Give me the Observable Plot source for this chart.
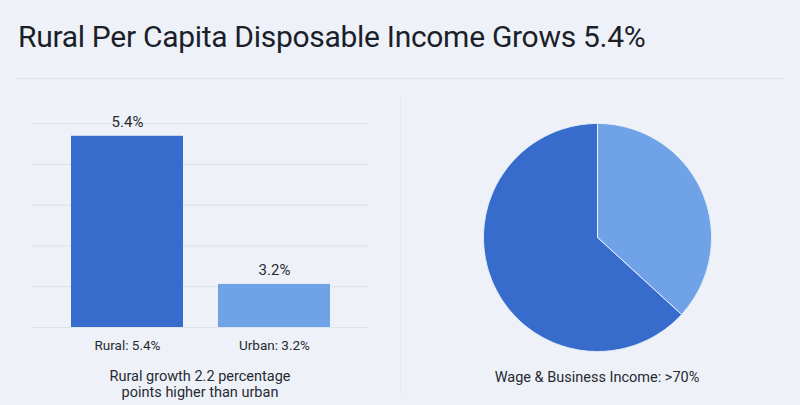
<!DOCTYPE html>
<html>
<head>
<meta charset="utf-8">
<script src="https://cdn.jsdelivr.net/npm/d3@7"></script>
<script src="https://cdn.jsdelivr.net/npm/@observablehq/plot@0.6"></script>
<style>
  html, body { margin: 0; padding: 0; }
  body { width: 800px; height: 405px; background: #eef2f8; position: relative; overflow: hidden; font-family: Roboto, "Noto Sans", sans-serif; color: #2a2e36; }
  #title { position: absolute; left: 18px; top: 19px; font-size: 30px; color: #1b1f2a; white-space: nowrap; letter-spacing: -0.3px; }
  #sep { position: absolute; left: 15px; top: 78px; width: 768px; height: 1px; background: #dde2ea; }
  #vdiv { position: absolute; left: 400px; top: 95px; width: 1px; height: 300px; background: #e4e8ef; }
  #bars { position: absolute; left: 0; top: 100px; }
  #pie { position: absolute; left: 400px; top: 95px; }
  .cap { position: absolute; text-align: center; font-size: 14.5px; line-height: 15.5px; color: #262a32; }
  #cap1 { left: 0; width: 400px; top: 369px; }
  #cap2 { left: 397px; width: 400px; top: 370px; }
</style>
</head>
<body>
<div id="title"></div>
<div id="sep"></div>
<div id="vdiv"></div>
<div id="bars"></div>
<div id="pie"></div>
<div id="cap1" class="cap"></div>
<div id="cap2" class="cap"></div>
<script>
// ---- data ----
const titleText = "Rural Per Capita Disposable Income Grows 5.4%";
const categories = ["Rural", "Urban"];
const growth = [5.4, 3.2];
const barLabels = ["5.4%", "3.2%"];
const tickLabels = ["Rural: 5.4%", "Urban: 3.2%"];
const barCaption = ["Rural growth 2.2 percentage", "points higher than urban"];
const sliceNames = ["Other income", "Wage & Business"];
const sliceShares = [36.8, 63.2];
const pieCaption = "Wage & Business Income: >70%";
// axis extent as drawn in the picture
const yBase = 2.56, yTop = 5.59;

const darkBlue = "#376ccd";
const lightBlue = "#6fa2e6";

document.getElementById("title").textContent = titleText;
document.getElementById("cap1").innerHTML = barCaption.join("<br>");
document.getElementById("cap2").textContent = pieCaption;

// ---- bar chart ----
const barData = categories.map((c, i) => ({cat: c, value: growth[i], label: barLabels[i], tick: tickLabels[i]}));
const gridVals = d3.range(6).map(i => yBase + i * (yTop - yBase) / 5);
const barPlot = Plot.plot({
  width: 400,
  height: 262,
  marginLeft: 32,
  marginRight: 32,
  marginTop: 23,
  marginBottom: 35,
  style: {background: "transparent", fontFamily: "Roboto, 'Noto Sans', sans-serif", fontSize: "13.5px", color: "#262a32"},
  x: {domain: categories, paddingInner: 0.24, paddingOuter: 0.26, label: null},
  y: {domain: [yBase, yTop], axis: null},
  marks: [
    Plot.ruleY(gridVals, {stroke: "#dfe3ea", strokeWidth: 1.2}),
    Plot.barY(barData, {x: "cat", y1: yBase, y2: "value", fill: (d) => d.cat === "Rural" ? darkBlue : lightBlue}),
    Plot.text(barData, {x: "cat", y: "value", text: "label", dy: -14, fill: "#262a32", fontSize: 15}),
    Plot.axisX({tickSize: 0, tickPadding: 13, tickFormat: d => tickLabels[categories.indexOf(d)], label: null, fontSize: 13.5})
  ]
});
document.getElementById("bars").appendChild(barPlot);

// ---- pie chart ----
const arcs = d3.pie().sort(null)(sliceShares);
const piePts = [];
arcs.forEach((a, i) => {
  piePts.push({slice: sliceNames[i], px: 0, py: 0});
  const n = Math.max(2, Math.ceil((a.endAngle - a.startAngle) / 0.01));
  for (let k = 0; k <= n; k++) {
    const t = a.startAngle + (a.endAngle - a.startAngle) * k / n;
    piePts.push({slice: sliceNames[i], px: Math.sin(t), py: Math.cos(t)});
  }
  piePts.push({slice: sliceNames[i], px: 0, py: 0});
});
const piePlot = Plot.plot({
  width: 400,
  height: 280,
  marginLeft: 83,
  marginRight: 89,
  marginTop: 28,
  marginBottom: 24,
  style: {background: "transparent"},
  x: {domain: [-1, 1], axis: null},
  y: {domain: [-1, 1], axis: null},
  color: {domain: sliceNames, range: [lightBlue, darkBlue]},
  marks: [
    Plot.line(piePts, {x: "px", y: "py", z: "slice", fill: "slice", stroke: "#eaf1fb", strokeWidth: 1, curve: "linear"})
  ]
});
document.getElementById("pie").appendChild(piePlot);
</script>
</body>
</html>
